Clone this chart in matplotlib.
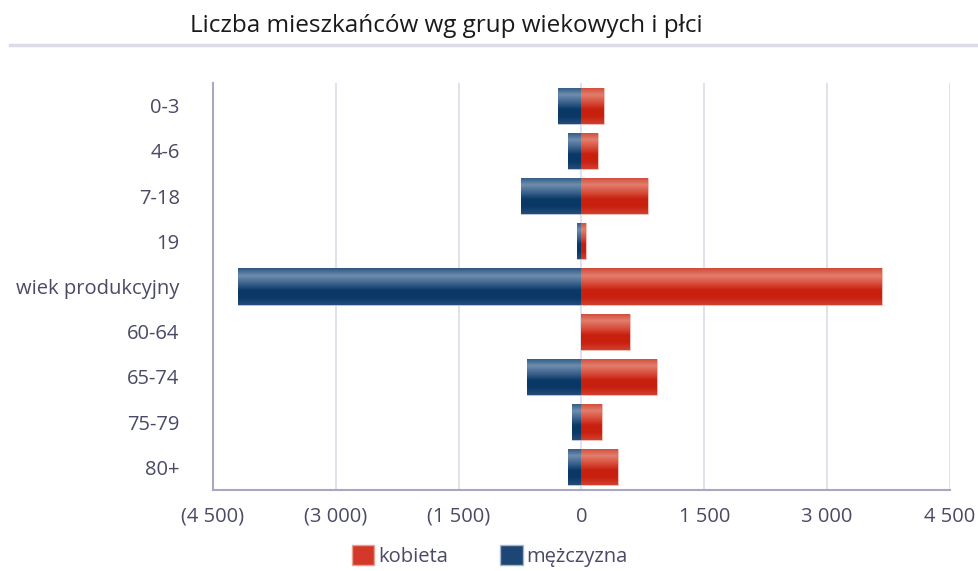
import numpy as np
import matplotlib
matplotlib.use("Agg")
import matplotlib.pyplot as plt
from matplotlib.patches import Patch
from matplotlib.lines import Line2D
from matplotlib.ticker import FuncFormatter

plt.rcParams['font.family'] = ['Open Sans', 'DejaVu Sans']

# data
groups = ['0-3', '4-6', '7-18', '19', 'wiek produkcyjny', '60-64', '65-74', '75-79', '80+']
kobieta = [280, 207, 817, 60, 3670, 598, 927, 256, 451]
mezczyzna = [293, 170, 744, 60, 4195, 0, 670, 122, 170]
xticks = [-4500, -3000, -1500, 0, 1500, 3000, 4500]

TXT = '#4a4a66'

# vertical gradient stops (top -> bottom) for the glossy bars
blue_stops = ['#2d5680', '#6e8eae', '#3f6690', '#0b3966', '#0a3867', '#234c78']
red_stops = ['#d04a36', '#e27e6e', '#d9503e', '#c8200f', '#c9200f', '#d0402e']


def gradient(stops, n=60):
    rgb = np.array([matplotlib.colors.to_rgb(c) for c in stops])
    pos = np.linspace(0, 1, len(stops))
    t = np.linspace(0, 1, n)
    g = np.stack([np.interp(t, pos, rgb[:, k]) for k in range(3)], axis=-1)
    return g[:, None, :]


fig = plt.figure(figsize=(9.79, 5.71), dpi=100)
ax = fig.add_axes([213 / 979, 1 - 490 / 571, (950 - 213) / 979, (490 - 83) / 571])

y = np.arange(len(groups))
bars_m = ax.barh(y, [-v for v in mezczyzna], height=0.8, color='#0b3966',
                 edgecolor='#c8cce0', linewidth=0.6, zorder=3)
bars_k = ax.barh(y, kobieta, height=0.8, color='#c8200f',
                 edgecolor='#f0c8c0', linewidth=0.6, zorder=3)

for bars, stops in ((bars_m, blue_stops), (bars_k, red_stops)):
    g = gradient(stops)
    for p in bars:
        w = p.get_width()
        if w == 0:
            continue
        x0 = p.get_x()
        y0 = p.get_y()
        h = p.get_height()
        im = ax.imshow(g, extent=(min(x0, x0 + w), max(x0, x0 + w), y0 + h, y0),
                       aspect='auto', interpolation='bilinear', zorder=3.5)
        im.set_clip_path(p)

ax.set_xlim(-4500, 4500)
ax.set_ylim(len(groups) - 0.5, -0.5)
ax.set_xticks(xticks)
ax.xaxis.set_major_formatter(FuncFormatter(
    lambda v, _: ('({:,})'.format(int(-v)) if v < 0 else '{:,}'.format(int(v))).replace(',', ' ')))
ax.set_yticks(y)
ax.set_yticklabels(groups)
ax.tick_params(axis='both', length=0, colors=TXT, labelsize=14.5)
ax.tick_params(axis='x', pad=12)
ax.tick_params(axis='y', pad=24)

ax.grid(axis='x', color='#dcdce8', linewidth=1.2, zorder=0)
ax.set_axisbelow(True)
for s in ('top', 'right'):
    ax.spines[s].set_visible(False)
for s in ('left', 'bottom'):
    ax.spines[s].set_color('#a8a8c4')
    ax.spines[s].set_linewidth(1.5)

# title and separator line
fig.text(190 / 979, 1 - 26 / 571, 'Liczba mieszkańców wg grup wiekowych i płci',
         fontsize=17.5, color='#1a1a1a', va='center', ha='left')
fig.add_artist(Line2D([10 / 979, 1], [1 - 45 / 571, 1 - 45 / 571],
                      transform=fig.transFigure, color='#dcdce6', linewidth=2.5))

handles = [Patch(facecolor='#d4382a', edgecolor='#e8a090', label='kobieta'),
           Patch(facecolor='#1c4674', edgecolor='#a8b4cc', label='mężczyzna')]
leg = fig.legend(handles=handles, loc='center', bbox_to_anchor=(490 / 979, 1 - 556 / 571),
                 ncol=2, frameon=False, fontsize=14.5, handlelength=1.1, handleheight=1.1,
                 handletextpad=0.2, columnspacing=2.6)
for t in leg.get_texts():
    t.set_color(TXT)

fig.savefig('out.png', dpi=100)
